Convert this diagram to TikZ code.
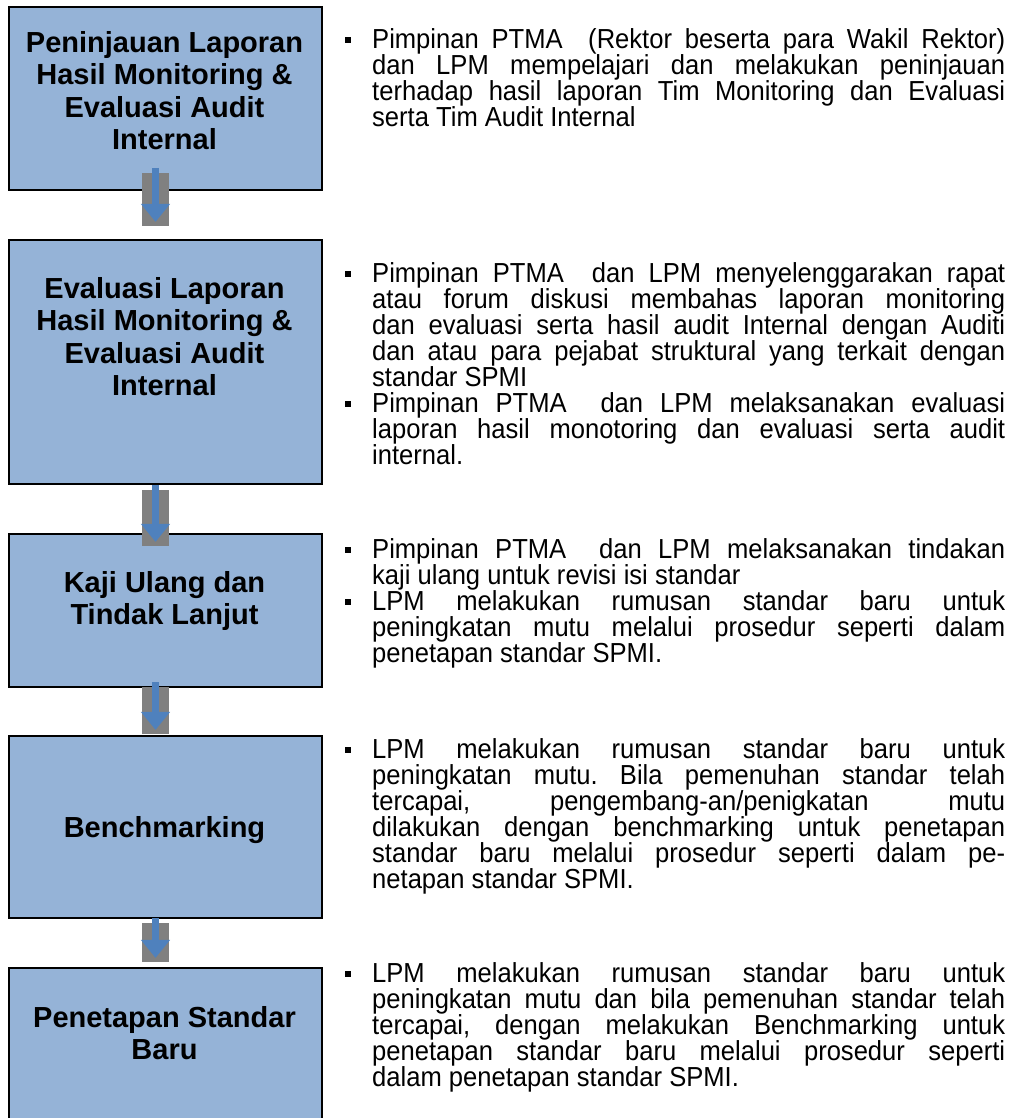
\documentclass[tikz,border=0pt]{standalone}
\usepackage{fontspec}
\setmainfont{Liberation Sans}
\newfontfamily\descfont[FakeStretch=0.93]{Liberation Sans}
\usetikzlibrary{arrows.meta}
\definecolor{boxblue}{RGB}{149,179,215}
\definecolor{arrowblue}{RGB}{79,129,189}
\definecolor{bargray}{RGB}{128,128,128}
\tolerance=9999
\hbadness=10000
\hyphenpenalty=10000
\exhyphenpenalty=10000
\lineskiplimit=-20pt
\frenchspacing
\newcommand\itemsq{\noindent\llap{\rule[5.5pt]{6pt}{6pt}\hspace{21pt}}}

\begin{document}
\begin{tikzpicture}[x=1pt,y=-1pt,
  stepbox/.style={draw=black,line width=2pt,fill=boxblue,minimum width=313pt,inner sep=0pt,anchor=north west},
  steplabel/.style={anchor=north,align=center,inner sep=0pt,font=\fontsize{29}{32.5}\selectfont\bfseries},
  backbar/.style={fill=bargray,minimum width=27pt,inner sep=0pt,anchor=north},
  flowarrow/.style={draw=arrowblue,line width=7pt,-{Triangle[width=28pt,length=18pt]}},
  desc/.style={anchor=north west,inner sep=0pt,text width=633pt,align=justify,
    font=\descfont\fontsize{27.5}{26}\selectfont}]
\useasboundingbox (0,0) rectangle (1012,1118);

\node [stepbox,minimum height=183pt] (box1) at (8,6) {};
\node [stepbox,minimum height=244pt] (box2) at (8,239) {};
\node [stepbox,minimum height=153pt] (box3) at (8,533) {};
\node [stepbox,minimum height=182pt] (box4) at (8,735) {};
\node [stepbox,minimum height=160pt] (box5) at (8,967) {};

\node [steplabel] (t1) at (164.5,31) {Peninjauan Laporan\\Hasil Monitoring \&\\Evaluasi Audit\\Internal};
\node [steplabel] (t2) at (164.5,277) {Evaluasi Laporan\\Hasil Monitoring \&\\Evaluasi Audit\\Internal};
\node [steplabel] (t3) at (164.5,571) {Kaji Ulang dan\\Tindak Lanjut};
\node [steplabel] (t4) at (164.5,816) {Benchmarking};
\node [steplabel] (t5) at (164.5,1006) {Penetapan Standar\\Baru};

\node [backbar,minimum height=53pt] (g1) at (155.5,173) {};
\node [backbar,minimum height=56pt] (g2) at (155.5,490) {};
\node [backbar,minimum height=47pt] (g3) at (155.5,687) {};
\node [backbar,minimum height=39pt] (g4) at (155.5,923) {};
\foreach \g in {g1,g2,g3,g4}
  \draw [flowarrow] ([yshift=5pt]\g.north) -- ([yshift=4.5pt]\g.south);

\node [desc] (d1) at (372,28) {\itemsq Pimpinan PTMA\ \ (Rektor beserta para Wakil Rektor)\linebreak
  dan LPM mempelajari dan melakukan peninjauan\linebreak
  terhadap hasil laporan Tim Monitoring dan Evaluasi\linebreak
  serta Tim Audit Internal};
\node [desc] (d2) at (372,262) {\itemsq Pimpinan PTMA\ \ dan LPM menyelenggarakan rapat\linebreak
  atau forum diskusi membahas laporan monitoring\linebreak
  dan evaluasi serta hasil audit Internal dengan Auditi\linebreak
  dan atau para pejabat struktural yang terkait dengan\linebreak
  standar SPMI\par
  \itemsq Pimpinan PTMA\ \ dan LPM melaksanakan evaluasi\linebreak
  laporan hasil monotoring dan evaluasi serta audit\linebreak
  internal.};
\node [desc] (d3) at (372,538) {\itemsq Pimpinan PTMA\ \ dan LPM melaksanakan tindakan\linebreak
  kaji ulang untuk revisi isi standar\par
  \itemsq LPM melakukan rumusan standar baru untuk\linebreak
  peningkatan mutu melalui prosedur seperti dalam\linebreak
  penetapan standar SPMI.};
\node [desc] (d4) at (372,738) {\itemsq LPM melakukan rumusan standar baru untuk\linebreak
  peningkatan mutu. Bila pemenuhan standar telah\linebreak
  tercapai, pengembang-an/penigkatan mutu\linebreak
  dilakukan dengan benchmarking untuk penetapan\linebreak
  standar baru melalui prosedur seperti dalam pe-\linebreak
  netapan standar SPMI.};
\node [desc] (d5) at (372,962) {\itemsq LPM melakukan rumusan standar baru untuk\linebreak
  peningkatan mutu dan bila pemenuhan standar telah\linebreak
  tercapai, dengan melakukan Benchmarking untuk\linebreak
  penetapan standar baru melalui prosedur seperti\linebreak
  dalam penetapan standar SPMI.};
\end{tikzpicture}
\end{document}
